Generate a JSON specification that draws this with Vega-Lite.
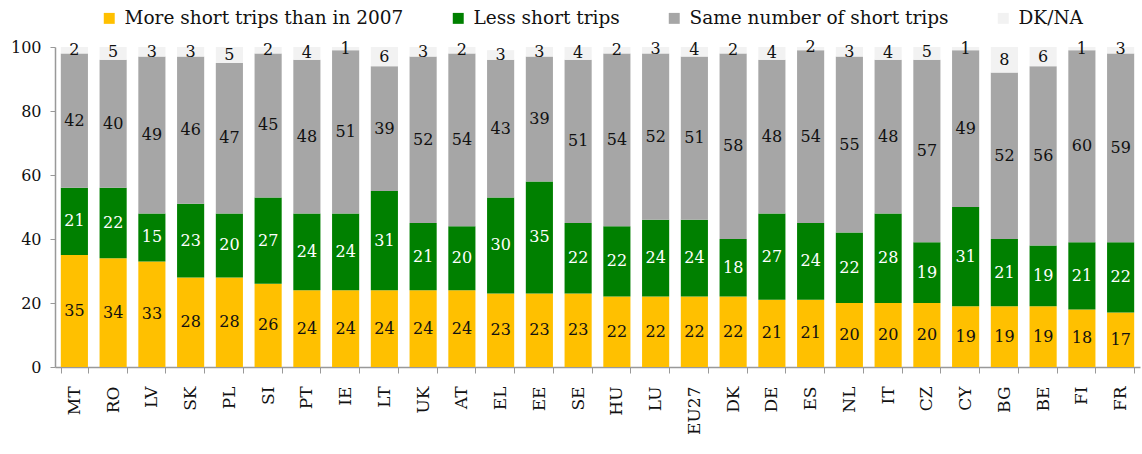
{
  "$schema": "https://vega.github.io/schema/vega-lite/v6.json",
  "width": 1085,
  "height": 320,
  "autosize": {"type": "none"},
  "padding": {"left": 55, "top": 47, "right": 2, "bottom": 87},
  "background": "white",
  "config": {"view": {"stroke": null}, "font": "DejaVu Serif"},
  "data": {"values": [
    {"c":"MT","k":"More short trips than in 2007","o":1,"v":35},{"c":"MT","k":"Less short trips","o":2,"v":21},{"c":"MT","k":"Same number of short trips","o":3,"v":42},{"c":"MT","k":"DK/NA","o":4,"v":2},
    {"c":"RO","k":"More short trips than in 2007","o":1,"v":34},{"c":"RO","k":"Less short trips","o":2,"v":22},{"c":"RO","k":"Same number of short trips","o":3,"v":40},{"c":"RO","k":"DK/NA","o":4,"v":5},
    {"c":"LV","k":"More short trips than in 2007","o":1,"v":33},{"c":"LV","k":"Less short trips","o":2,"v":15},{"c":"LV","k":"Same number of short trips","o":3,"v":49},{"c":"LV","k":"DK/NA","o":4,"v":3},
    {"c":"SK","k":"More short trips than in 2007","o":1,"v":28},{"c":"SK","k":"Less short trips","o":2,"v":23},{"c":"SK","k":"Same number of short trips","o":3,"v":46},{"c":"SK","k":"DK/NA","o":4,"v":3},
    {"c":"PL","k":"More short trips than in 2007","o":1,"v":28},{"c":"PL","k":"Less short trips","o":2,"v":20},{"c":"PL","k":"Same number of short trips","o":3,"v":47},{"c":"PL","k":"DK/NA","o":4,"v":5},
    {"c":"SI","k":"More short trips than in 2007","o":1,"v":26},{"c":"SI","k":"Less short trips","o":2,"v":27},{"c":"SI","k":"Same number of short trips","o":3,"v":45},{"c":"SI","k":"DK/NA","o":4,"v":2},
    {"c":"PT","k":"More short trips than in 2007","o":1,"v":24},{"c":"PT","k":"Less short trips","o":2,"v":24},{"c":"PT","k":"Same number of short trips","o":3,"v":48},{"c":"PT","k":"DK/NA","o":4,"v":4},
    {"c":"IE","k":"More short trips than in 2007","o":1,"v":24},{"c":"IE","k":"Less short trips","o":2,"v":24},{"c":"IE","k":"Same number of short trips","o":3,"v":51},{"c":"IE","k":"DK/NA","o":4,"v":1},
    {"c":"LT","k":"More short trips than in 2007","o":1,"v":24},{"c":"LT","k":"Less short trips","o":2,"v":31},{"c":"LT","k":"Same number of short trips","o":3,"v":39},{"c":"LT","k":"DK/NA","o":4,"v":6},
    {"c":"UK","k":"More short trips than in 2007","o":1,"v":24},{"c":"UK","k":"Less short trips","o":2,"v":21},{"c":"UK","k":"Same number of short trips","o":3,"v":52},{"c":"UK","k":"DK/NA","o":4,"v":3},
    {"c":"AT","k":"More short trips than in 2007","o":1,"v":24},{"c":"AT","k":"Less short trips","o":2,"v":20},{"c":"AT","k":"Same number of short trips","o":3,"v":54},{"c":"AT","k":"DK/NA","o":4,"v":2},
    {"c":"EL","k":"More short trips than in 2007","o":1,"v":23},{"c":"EL","k":"Less short trips","o":2,"v":30},{"c":"EL","k":"Same number of short trips","o":3,"v":43},{"c":"EL","k":"DK/NA","o":4,"v":3},
    {"c":"EE","k":"More short trips than in 2007","o":1,"v":23},{"c":"EE","k":"Less short trips","o":2,"v":35},{"c":"EE","k":"Same number of short trips","o":3,"v":39},{"c":"EE","k":"DK/NA","o":4,"v":3},
    {"c":"SE","k":"More short trips than in 2007","o":1,"v":23},{"c":"SE","k":"Less short trips","o":2,"v":22},{"c":"SE","k":"Same number of short trips","o":3,"v":51},{"c":"SE","k":"DK/NA","o":4,"v":4},
    {"c":"HU","k":"More short trips than in 2007","o":1,"v":22},{"c":"HU","k":"Less short trips","o":2,"v":22},{"c":"HU","k":"Same number of short trips","o":3,"v":54},{"c":"HU","k":"DK/NA","o":4,"v":2},
    {"c":"LU","k":"More short trips than in 2007","o":1,"v":22},{"c":"LU","k":"Less short trips","o":2,"v":24},{"c":"LU","k":"Same number of short trips","o":3,"v":52},{"c":"LU","k":"DK/NA","o":4,"v":3},
    {"c":"EU27","k":"More short trips than in 2007","o":1,"v":22},{"c":"EU27","k":"Less short trips","o":2,"v":24},{"c":"EU27","k":"Same number of short trips","o":3,"v":51},{"c":"EU27","k":"DK/NA","o":4,"v":4},
    {"c":"DK","k":"More short trips than in 2007","o":1,"v":22},{"c":"DK","k":"Less short trips","o":2,"v":18},{"c":"DK","k":"Same number of short trips","o":3,"v":58},{"c":"DK","k":"DK/NA","o":4,"v":2},
    {"c":"DE","k":"More short trips than in 2007","o":1,"v":21},{"c":"DE","k":"Less short trips","o":2,"v":27},{"c":"DE","k":"Same number of short trips","o":3,"v":48},{"c":"DE","k":"DK/NA","o":4,"v":4},
    {"c":"ES","k":"More short trips than in 2007","o":1,"v":21},{"c":"ES","k":"Less short trips","o":2,"v":24},{"c":"ES","k":"Same number of short trips","o":3,"v":54},{"c":"ES","k":"DK/NA","o":4,"v":2},
    {"c":"NL","k":"More short trips than in 2007","o":1,"v":20},{"c":"NL","k":"Less short trips","o":2,"v":22},{"c":"NL","k":"Same number of short trips","o":3,"v":55},{"c":"NL","k":"DK/NA","o":4,"v":3},
    {"c":"IT","k":"More short trips than in 2007","o":1,"v":20},{"c":"IT","k":"Less short trips","o":2,"v":28},{"c":"IT","k":"Same number of short trips","o":3,"v":48},{"c":"IT","k":"DK/NA","o":4,"v":4},
    {"c":"CZ","k":"More short trips than in 2007","o":1,"v":20},{"c":"CZ","k":"Less short trips","o":2,"v":19},{"c":"CZ","k":"Same number of short trips","o":3,"v":57},{"c":"CZ","k":"DK/NA","o":4,"v":5},
    {"c":"CY","k":"More short trips than in 2007","o":1,"v":19},{"c":"CY","k":"Less short trips","o":2,"v":31},{"c":"CY","k":"Same number of short trips","o":3,"v":49},{"c":"CY","k":"DK/NA","o":4,"v":1},
    {"c":"BG","k":"More short trips than in 2007","o":1,"v":19},{"c":"BG","k":"Less short trips","o":2,"v":21},{"c":"BG","k":"Same number of short trips","o":3,"v":52},{"c":"BG","k":"DK/NA","o":4,"v":8},
    {"c":"BE","k":"More short trips than in 2007","o":1,"v":19},{"c":"BE","k":"Less short trips","o":2,"v":19},{"c":"BE","k":"Same number of short trips","o":3,"v":56},{"c":"BE","k":"DK/NA","o":4,"v":6},
    {"c":"FI","k":"More short trips than in 2007","o":1,"v":18},{"c":"FI","k":"Less short trips","o":2,"v":21},{"c":"FI","k":"Same number of short trips","o":3,"v":60},{"c":"FI","k":"DK/NA","o":4,"v":1},
    {"c":"FR","k":"More short trips than in 2007","o":1,"v":17},{"c":"FR","k":"Less short trips","o":2,"v":22},{"c":"FR","k":"Same number of short trips","o":3,"v":59},{"c":"FR","k":"DK/NA","o":4,"v":3}
  ]},
  "transform": [
    {"stack": "v", "groupby": ["c"], "sort": [{"field": "o", "order": "ascending"}], "as": ["y0", "y1"]},
    {"calculate": "(datum.y0 + datum.y1) / 2", "as": "ym"}
  ],
  "layer": [
    {
      "mark": {"type": "bar", "clip": true},
      "encoding": {
        "x": {
          "field": "c", "type": "nominal", "sort": null,
          "scale": {"paddingInner": 0.3, "paddingOuter": 0.15},
          "axis": {
            "title": null, "labelAngle": -90, "labelAlign": "right", "labelBaseline": "middle",
            "labelFontSize": 17, "labelColor": "#111", "labelPadding": 13,
            "tickBand": "extent", "tickSize": 6, "tickColor": "#999", "domainColor": "#999", "domainWidth": 1.5
          }
        },
        "y": {
          "field": "y0", "type": "quantitative",
          "scale": {"domain": [0, 100], "nice": false},
          "axis": {
            "title": null, "values": [0, 20, 40, 60, 80, 100], "grid": false,
            "labelFontSize": 16, "labelColor": "#111", "labelPadding": 9,
            "tickSize": 5, "tickColor": "#999", "domainColor": "#999", "domainWidth": 1.5
          }
        },
        "y2": {"field": "y1"},
        "color": {
          "field": "k", "type": "nominal",
          "scale": {
            "domain": ["More short trips than in 2007", "Less short trips", "Same number of short trips", "DK/NA"],
            "range": ["#FFC000", "#008000", "#A6A6A6", "#F2F2F2"]
          },
          "legend": {
            "orient": "none", "legendX": 45, "legendY": -38, "direction": "horizontal",
            "title": null, "symbolType": "square", "symbolSize": 120, "symbolStrokeWidth": 0,
            "labelFontSize": 18.5, "labelColor": "#111", "labelLimit": 0, "columnPadding": 45, "labelOffset": 6
          }
        }
      }
    },
    {
      "mark": {"type": "text", "fontSize": 16, "baseline": "middle", "align": "center"},
      "encoding": {
        "x": {"field": "c", "type": "nominal", "sort": null},
        "y": {"field": "ym", "type": "quantitative"},
        "text": {"field": "v", "type": "quantitative"},
        "color": {"condition": {"test": "datum.o == 2", "value": "white"}, "value": "#111"}
      }
    }
  ]
}
